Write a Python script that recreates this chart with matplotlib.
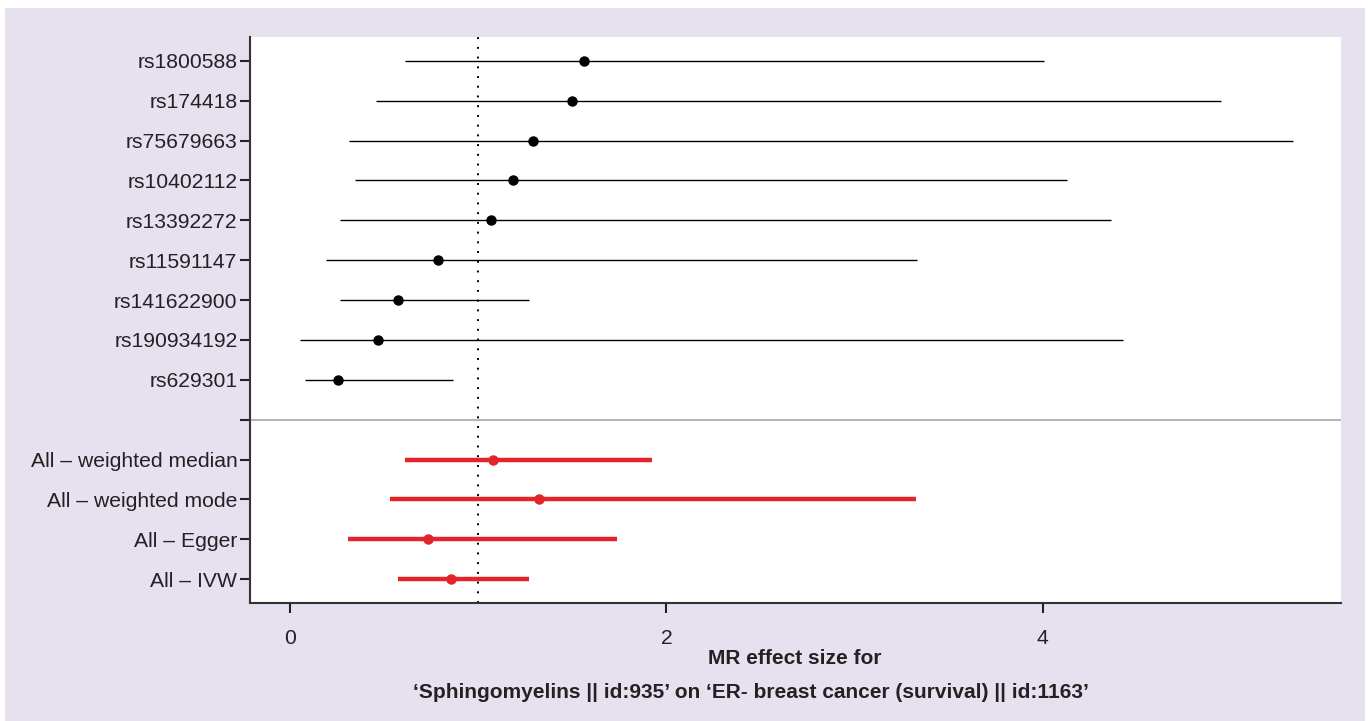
import matplotlib.pyplot as plt
from matplotlib.patches import Rectangle

snps = ["rs1800588", "rs174418", "rs75679663", "rs10402112", "rs13392272",
        "rs11591147", "rs141622900", "rs190934192", "rs629301"]
snp_est = [1.564, 1.500, 1.293, 1.186, 1.069, 0.787, 0.574, 0.468, 0.255]
snp_lo = [0.612, 0.457, 0.314, 0.346, 0.266, 0.191, 0.266, 0.053, 0.080]
snp_hi = [4.005, 4.947, 5.330, 4.128, 4.362, 3.330, 1.271, 4.426, 0.867]

methods = ["All \u2013 weighted median", "All \u2013 weighted mode",
           "All \u2013 Egger", "All \u2013 IVW"]
meth_est = [1.080, 1.324, 0.734, 0.856]
meth_lo = [0.612, 0.532, 0.309, 0.574]
meth_hi = [1.926, 3.324, 1.739, 1.271]

x_ticks = [0, 2, 4]
xlabel_1 = "MR effect size for"
xlabel_2 = "\u2018Sphingomyelins || id:935\u2019 on \u2018ER- breast cancer (survival) || id:1163\u2019"

BG = "#e6e0ef"
RED = "#e3242b"
W, H = 1370, 721

plt.rcParams["font.family"] = ["Liberation Sans", "DejaVu Sans"]

fig = plt.figure(figsize=(W / 100, H / 100), dpi=100, facecolor="white")
fig.patches.append(Rectangle((5 / W, 0), (1365 - 5) / W, (H - 8) / H,
                             transform=fig.transFigure, facecolor=BG,
                             edgecolor="none", zorder=-10))

ax = fig.add_axes([250 / W, 1 - 603 / H, (1341 - 250) / W, (603 - 37) / H])
ax.set_facecolor("white")

n_meth = len(methods)
meth_y = list(range(n_meth, 0, -1))
gap_y = n_meth + 1
snp_y = list(range(len(snps) + gap_y, gap_y, -1))

ax.hlines(snp_y, snp_lo, snp_hi, color="black", lw=1)
ax.plot(snp_est, snp_y, "o", color="black", ms=6.5)
ax.hlines(meth_y, meth_lo, meth_hi, color=RED, lw=3.2)
ax.plot(meth_est, meth_y, "o", color=RED, ms=6.5)

ax.axhline(gap_y, color="#b5b5b5", lw=1.5)
ax.axvline(1, color="black", lw=1.4, ls=(0, (1, 4)))

ax.set_xlim(-0.213, 5.585)
ax.set_ylim(0.4, len(snps) + gap_y + 0.6)
ax.set_xticks(x_ticks)
ax.set_xticklabels([str(t) for t in x_ticks])
ax.set_yticks(snp_y + [gap_y] + meth_y)
ax.set_yticklabels(snps + [""] + methods)

for s in ["top", "right"]:
    ax.spines[s].set_visible(False)
for s in ["left", "bottom"]:
    ax.spines[s].set_color("#333333")
    ax.spines[s].set_linewidth(1.5)
ax.tick_params(axis="both", length=7, width=1.5, color="#222222",
               labelsize=15.2, labelcolor="#222222")
ax.tick_params(axis="y", pad=2)
ax.tick_params(axis="x", pad=12)

fig.text(795 / W, 1 - 658 / H, xlabel_1, ha="center", va="center",
         fontsize=15, fontweight="bold", color="#222222")
fig.text(751 / W, 1 - 692 / H, xlabel_2, ha="center", va="center",
         fontsize=15, fontweight="bold", color="#222222")

fig.savefig("out.png", dpi=100, facecolor=fig.get_facecolor())
